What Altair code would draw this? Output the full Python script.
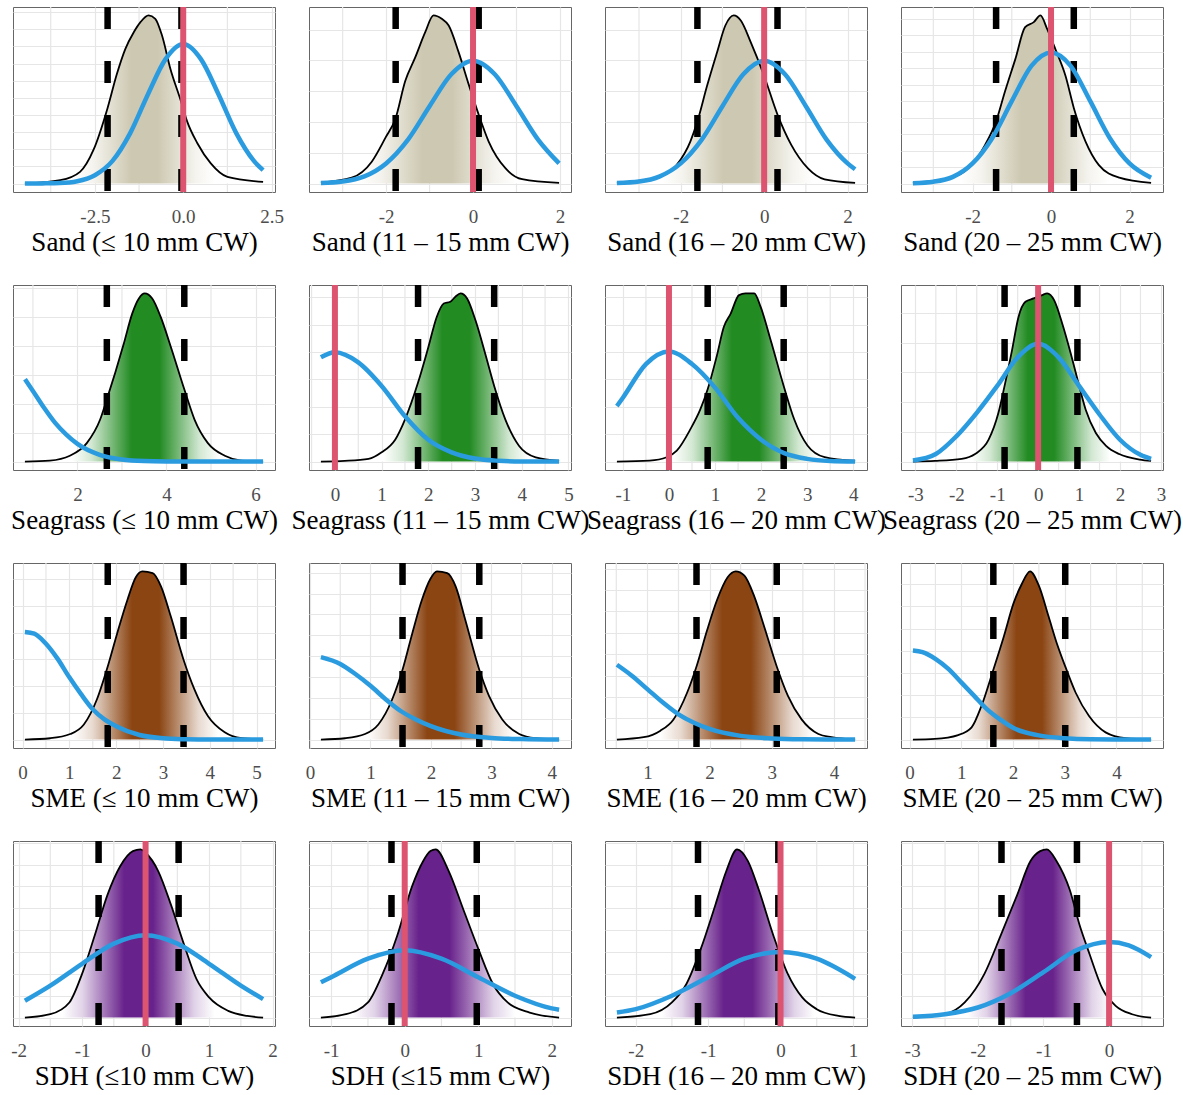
import math
import altair as alt
import pandas as pd

TITLES = [
    "Sand (\u2264 10 mm CW)", "Sand (11 \u2013 15 mm CW)", "Sand (16 \u2013 20 mm CW)", "Sand (20 \u2013 25 mm CW)",
    "Seagrass (\u2264 10 mm CW)", "Seagrass (11 \u2013 15 mm CW)", "Seagrass (16 \u2013 20 mm CW)", "Seagrass (20 \u2013 25 mm CW)",
    "SME (\u2264 10 mm CW)", "SME (11 \u2013 15 mm CW)", "SME (16 \u2013 20 mm CW)", "SME (20 \u2013 25 mm CW)",
    "SDH (\u226410 mm CW)", "SDH (\u226415 mm CW)", "SDH (16 \u2013 20 mm CW)", "SDH (20 \u2013 25 mm CW)",
]

# posterior densities (black outline), peak scaled to 1
POST_X = [
    [-4.48, -3.48, -2.92, -2.54, -2.14, -1.88, -1.64, -1.40, -1.21, -0.98, -0.79, -0.60, -0.36, -0.08, 0.11, 0.40, 0.78, 1.25, 2.26],
    [-3.5, -2.79, -2.33, -2.02, -1.78, -1.56, -1.33, -1.10, -0.91, -0.72, -0.56, -0.33, -0.10, 0.13, 0.36, 0.75, 1.13, 1.98],
    [-3.53, -2.58, -2.10, -1.77, -1.60, -1.37, -1.13, -0.93, -0.73, -0.56, -0.32, 0.0, 0.32, 0.65, 1.05, 1.45, 2.18],
    [-3.52, -2.54, -2.11, -1.68, -1.40, -1.17, -0.91, -0.66, -0.44, -0.27, -0.10, 0.11, 0.37, 0.58, 0.88, 1.22, 1.74, 2.55],
    [0.82, 1.38, 1.83, 2.21, 2.51, 2.66, 2.85, 3.04, 3.23, 3.38, 3.51, 3.68, 3.87, 4.10, 4.40, 4.63, 4.93, 5.31, 5.68, 6.17],
    [-0.30, 0.21, 0.72, 1.00, 1.29, 1.50, 1.78, 2.00, 2.18, 2.33, 2.47, 2.58, 2.69, 2.83, 3.01, 3.22, 3.41, 3.65, 3.94, 4.30, 4.80],
    [-1.13, -0.42, -0.05, 0.17, 0.46, 0.68, 0.84, 1.04, 1.19, 1.34, 1.52, 1.66, 1.85, 1.99, 2.21, 2.49, 2.72, 3.01, 3.38, 4.04],
    [-3.06, -2.52, -1.87, -1.54, -1.21, -0.97, -0.82, -0.64, -0.48, -0.31, -0.11, 0.10, 0.22, 0.39, 0.59, 0.80, 0.96, 1.16, 1.41, 1.66, 1.98, 2.48, 2.76],
    [0.05, 0.59, 1.02, 1.31, 1.59, 1.82, 2.02, 2.24, 2.42, 2.56, 2.78, 2.96, 3.17, 3.44, 3.67, 3.96, 4.32, 4.68, 5.14],
    [0.18, 0.58, 0.91, 1.13, 1.36, 1.53, 1.69, 1.85, 1.99, 2.10, 2.27, 2.41, 2.57, 2.80, 2.96, 3.18, 3.46, 3.73, 4.12],
    [0.51, 0.94, 1.21, 1.42, 1.64, 1.79, 1.96, 2.12, 2.29, 2.42, 2.56, 2.72, 2.88, 3.08, 3.26, 3.48, 3.75, 3.96, 4.34],
    [0.065, 0.49, 0.94, 1.20, 1.39, 1.62, 1.82, 2.01, 2.17, 2.33, 2.50, 2.69, 2.85, 3.01, 3.21, 3.47, 3.79, 4.18, 4.67],
    [-1.9, -1.5, -1.2, -1.0, -0.8, -0.6, -0.4, -0.2, -0.08, 0.0, 0.2, 0.4, 0.6, 0.8, 1.0, 1.3, 1.6, 1.85],
    [-1.14, -0.8, -0.5, -0.3, -0.1, 0.1, 0.25, 0.35, 0.42, 0.6, 0.8, 1.0, 1.2, 1.4, 1.7, 2.1],
    [-2.26, -1.8, -1.5, -1.3, -1.1, -0.9, -0.75, -0.6, -0.45, -0.3, -0.1, 0.1, 0.3, 0.5, 0.8, 1.03],
    [-2.99, -2.5, -2.2, -1.9, -1.65, -1.4, -1.2, -1.05, -0.95, -0.8, -0.6, -0.45, -0.3, -0.1, 0.1, 0.35, 0.64],
]
POST_Y = [
    [0.0, 0.02, 0.07, 0.2, 0.45, 0.65, 0.80, 0.90, 0.96, 1.0, 0.98, 0.88, 0.68, 0.50, 0.37, 0.24, 0.12, 0.04, 0.01],
    [0.006, 0.035, 0.13, 0.27, 0.39, 0.61, 0.75, 0.90, 1.0, 0.98, 0.94, 0.78, 0.59, 0.41, 0.25, 0.09, 0.026, 0.004],
    [0.004, 0.035, 0.11, 0.25, 0.37, 0.58, 0.78, 0.94, 1.0, 0.97, 0.84, 0.64, 0.41, 0.23, 0.09, 0.025, 0.004],
    [0.004, 0.035, 0.09, 0.23, 0.37, 0.55, 0.74, 0.93, 0.96, 1.0, 0.92, 0.80, 0.64, 0.45, 0.25, 0.11, 0.035, 0.004],
    [0.0, 0.006, 0.035, 0.11, 0.25, 0.37, 0.53, 0.70, 0.88, 0.97, 1.0, 0.97, 0.86, 0.68, 0.43, 0.25, 0.11, 0.035, 0.006, 0.0],
    [0.0, 0.004, 0.016, 0.055, 0.13, 0.25, 0.47, 0.68, 0.86, 0.94, 0.95, 0.98, 1.0, 0.97, 0.84, 0.64, 0.45, 0.25, 0.094, 0.025, 0.004],
    [0.0, 0.006, 0.026, 0.065, 0.19, 0.31, 0.43, 0.63, 0.80, 0.88, 0.99, 1.0, 1.0, 0.92, 0.72, 0.45, 0.25, 0.094, 0.026, 0.004],
    [0.0, 0.004, 0.016, 0.045, 0.13, 0.29, 0.45, 0.66, 0.86, 0.95, 0.97, 0.99, 1.0, 0.96, 0.82, 0.64, 0.49, 0.31, 0.17, 0.094, 0.045, 0.012, 0.004],
    [0.0, 0.008, 0.033, 0.09, 0.24, 0.435, 0.63, 0.83, 0.965, 1.0, 0.99, 0.91, 0.73, 0.475, 0.30, 0.14, 0.043, 0.008, 0.0],
    [0.0, 0.008, 0.033, 0.09, 0.24, 0.415, 0.63, 0.83, 0.955, 1.0, 0.99, 0.91, 0.71, 0.415, 0.26, 0.12, 0.033, 0.008, 0.0],
    [0.0, 0.014, 0.053, 0.12, 0.28, 0.435, 0.65, 0.83, 0.965, 1.0, 0.975, 0.85, 0.67, 0.435, 0.26, 0.12, 0.033, 0.014, 0.0],
    [0.0, 0.004, 0.027, 0.073, 0.20, 0.415, 0.61, 0.81, 0.925, 1.0, 0.915, 0.73, 0.57, 0.435, 0.28, 0.14, 0.043, 0.008, 0.0],
    [0.0, 0.02, 0.09, 0.26, 0.49, 0.73, 0.90, 0.99, 1.0, 0.98, 0.87, 0.67, 0.44, 0.23, 0.12, 0.04, 0.01, 0.0],
    [0.0, 0.02, 0.09, 0.26, 0.49, 0.78, 0.93, 0.99, 1.0, 0.87, 0.64, 0.41, 0.20, 0.09, 0.03, 0.0],
    [0.0, 0.02, 0.09, 0.20, 0.41, 0.67, 0.87, 1.0, 0.93, 0.76, 0.49, 0.26, 0.12, 0.05, 0.01, 0.0],
    [0.0, 0.02, 0.09, 0.26, 0.49, 0.73, 0.93, 0.99, 1.0, 0.93, 0.76, 0.55, 0.38, 0.17, 0.07, 0.02, 0.0],
]

# prior densities (blue), same vertical units as the posterior in each panel
PRIOR_X = [
    [-4.48, -4.0, -3.5, -3.0, -2.5, -2.0, -1.5, -1.0, -0.5, 0.0, 0.5, 1.0, 1.5, 2.0, 2.26],
    [-3.5, -3.0, -2.5, -2.0, -1.5, -1.0, -0.5, 0.0, 0.5, 1.0, 1.5, 1.98],
    [-3.53, -3.0, -2.5, -2.0, -1.5, -1.0, -0.5, 0.0, 0.5, 1.0, 1.5, 2.0, 2.18],
    [-3.52, -3.0, -2.5, -2.0, -1.5, -1.0, -0.5, 0.0, 0.5, 1.0, 1.5, 2.0, 2.55],
    [0.82, 1.0, 1.25, 1.5, 1.75, 2.0, 2.5, 3.0, 3.5, 4.0, 5.0, 6.17],
    [-0.30, 0.0, 0.5, 1.0, 1.5, 2.0, 2.5, 3.0, 3.5, 4.0, 4.8],
    [-1.13, -1.0, -0.5, 0.0, 0.5, 1.0, 1.5, 2.0, 2.5, 3.0, 3.5, 4.04],
    [-3.06, -2.5, -2.0, -1.5, -1.0, -0.5, 0.0, 0.5, 1.0, 1.5, 2.0, 2.5, 2.76],
    [0.05, 0.25, 0.5, 0.75, 1.0, 1.25, 1.5, 1.75, 2.0, 2.5, 3.0, 3.5, 4.0, 5.14],
    [0.18, 0.5, 0.75, 1.0, 1.25, 1.5, 1.75, 2.0, 2.5, 3.0, 3.5, 4.12],
    [0.51, 0.75, 1.0, 1.25, 1.5, 1.75, 2.0, 2.5, 3.0, 3.5, 4.34],
    [0.065, 0.25, 0.5, 0.75, 1.0, 1.25, 1.5, 1.75, 2.0, 2.5, 3.0, 3.5, 4.67],
    [-1.9, -1.5, -1.0, -0.5, 0.0, 0.5, 1.0, 1.5, 1.85],
    [-1.14, -1.0, -0.5, 0.0, 0.5, 1.0, 1.5, 2.0, 2.1],
    [-2.26, -2.0, -1.5, -1.0, -0.5, 0.0, 0.5, 1.03],
    [-2.99, -2.5, -2.0, -1.5, -1.0, -0.5, 0.0, 0.3, 0.64],
]
PRIOR_Y = [
    [0.0, 0.001, 0.003, 0.014, 0.05, 0.135, 0.30, 0.53, 0.74, 0.83, 0.74, 0.53, 0.30, 0.135, 0.08],
    [0.003, 0.012, 0.043, 0.12, 0.26, 0.46, 0.65, 0.73, 0.65, 0.46, 0.26, 0.12],
    [0.003, 0.012, 0.043, 0.12, 0.26, 0.46, 0.65, 0.73, 0.65, 0.46, 0.26, 0.12, 0.085],
    [0.002, 0.011, 0.04, 0.12, 0.27, 0.49, 0.70, 0.78, 0.70, 0.49, 0.27, 0.12, 0.035],
    [0.49, 0.42, 0.32, 0.23, 0.16, 0.105, 0.04, 0.012, 0.003, 0.001, 0.0, 0.0],
    [0.62, 0.65, 0.59, 0.45, 0.27, 0.13, 0.055, 0.018, 0.005, 0.001, 0.0],
    [0.33, 0.38, 0.58, 0.655, 0.58, 0.44, 0.26, 0.13, 0.05, 0.016, 0.004, 0.001],
    [0.006, 0.045, 0.15, 0.29, 0.45, 0.62, 0.70, 0.62, 0.45, 0.28, 0.13, 0.04, 0.016],
    [0.64, 0.63, 0.57, 0.48, 0.37, 0.27, 0.18, 0.12, 0.08, 0.027, 0.008, 0.002, 0.0, 0.0],
    [0.49, 0.45, 0.39, 0.32, 0.24, 0.17, 0.12, 0.08, 0.03, 0.01, 0.003, 0.0],
    [0.445, 0.38, 0.30, 0.22, 0.15, 0.10, 0.063, 0.022, 0.007, 0.002, 0.0],
    [0.53, 0.52, 0.48, 0.42, 0.34, 0.26, 0.18, 0.12, 0.07, 0.025, 0.008, 0.002, 0.0],
    [0.10, 0.19, 0.32, 0.44, 0.49, 0.44, 0.32, 0.19, 0.11],
    [0.21, 0.24, 0.35, 0.40, 0.35, 0.24, 0.13, 0.055, 0.047],
    [0.03, 0.05, 0.13, 0.24, 0.35, 0.39, 0.35, 0.23],
    [0.005, 0.02, 0.06, 0.145, 0.27, 0.40, 0.45, 0.43, 0.36],
]

# credible interval limits (dashed lines)
CI_LO = [-2.14, -1.78, -1.60, -1.40, 2.66, 1.78, 0.84, -0.82, 1.82, 1.53, 1.79, 1.62, -0.74, -0.18, -1.14, -1.64]
CI_HI = [-0.05, 0.13, 0.32, 0.58, 4.40, 3.41, 2.49, 0.96, 3.44, 2.80, 3.08, 3.01, 0.52, 0.98, -0.03, -0.49]
# zero reference line shown
ZERO_LINE = [True, True, True, True, False, True, True, True,
             False, False, False, False, True, True, True, True]

ROW_COLORS = ["#CDC8B1", "#228B22", "#8B4513", "#68228B"]
X_STEP = [2.5, 2, 2, 2, 2, 1, 1, 1, 1, 1, 1, 1, 1, 1, 1, 1]
X_FMT = [".1f"] + ["d"] * 15
Y_STEP = [0.102, 0.183, 0.183, 0.098, 0.172, 0.163, 0.163, 0.177,
          0.159, 0.124, 0.127, 0.132, 0.13, 0.13, 0.13, 0.13]

FONT = "Liberation Serif"
GRID = "#e6e6e6"


def mix(hex_color, t):
    r, g, b = (int(hex_color[k:k + 2], 16) for k in (1, 3, 5))
    f = lambda c: int(round(255 + (c - 255) * t))
    return "#%02x%02x%02x" % (f(r), f(g), f(b))


def fill_gradient(i, color):
    x0, x1 = POST_X[i][0], POST_X[i][-1]
    lo, hi = CI_LO[i], CI_HI[i]
    w = hi - lo
    c = (lo + hi) / 2
    pts = [(x0, 0.0), (lo - 0.45 * w, 0.0), (lo - 0.2 * w, 0.2), (lo, 0.5),
           (c - 0.18 * w, 1.0), (c + 0.18 * w, 1.0), (hi, 0.5),
           (hi + 0.2 * w, 0.2), (hi + 0.45 * w, 0.0), (x1, 0.0)]
    stops, last = [], 0.0
    for x, t in pts:
        off = min(max((x - x0) / (x1 - x0), 0.0), 1.0)
        off = max(off, last)
        last = off
        stops.append(alt.GradientStop(color=mix(color, t), offset=off))
    return alt.Gradient(gradient="linear", stops=stops, x1=0, x2=1, y1=0, y2=0)


def steps(lo, hi, step):
    k = math.ceil(lo / step - 1e-9)
    vals = []
    while k * step <= hi + 1e-9:
        vals.append(round(k * step, 6))
        k += 1
    return vals


def panel(i):
    color = ROW_COLORS[i // 4]
    xs = POST_X[i] + PRIOR_X[i]
    xmin, xmax = min(xs), max(xs)
    pad = 0.05 * (xmax - xmin)
    dom = [xmin - pad, xmax + pad]
    ymax = max(POST_Y[i] + PRIOR_Y[i])
    ydom = [-0.05 * ymax, 1.05 * ymax]

    st = X_STEP[i]
    majors = steps(dom[0], dom[1], st)
    minors = [v for v in steps(dom[0], dom[1], st / 2)
              if abs(v / st - round(v / st)) > 0.001]
    xaxis = alt.Axis(
        title=TITLES[i], values=majors, format=X_FMT[i],
        labelExpr="replace(datum.label, '\u2212', '-')",
        grid=True, gridColor=GRID, gridWidth=1.2, ticks=False,
        domain=False, labelFont=FONT, labelFontSize=19, labelColor="#4d4d4d",
        labelPadding=15, labelFlush=False, labelOverlap=False,
        titleFont=FONT, titleFontSize=27, titleFontWeight="normal",
        titleColor="#000000", titlePadding=3, titleLimit=600)
    yaxis = alt.Axis(values=steps(0, ydom[1], Y_STEP[i]), labels=False, ticks=False,
                     domain=False, title=None, grid=True, gridColor=GRID,
                     gridWidth=1.2, minExtent=0, maxExtent=0)
    xs_ = alt.Scale(domain=dom, nice=False, zero=False)
    ys_ = alt.Scale(domain=ydom, nice=False, zero=False)
    X = alt.X("x:Q", scale=xs_, axis=xaxis)
    Y = alt.Y("y:Q", scale=ys_, axis=yaxis)

    post = pd.DataFrame({"x": POST_X[i], "y": POST_Y[i]})
    prior = pd.DataFrame({"x": PRIOR_X[i], "y": PRIOR_Y[i]})
    ci = pd.DataFrame({"x": [CI_LO[i], CI_HI[i]]})
    minor_grid = pd.DataFrame({"x": minors})

    layers = [
        alt.Chart(minor_grid).mark_rule(color=GRID, strokeWidth=1.2).encode(x=X),
        alt.Chart(post).mark_area(color=fill_gradient(i, color), interpolate="monotone")
        .encode(x=X, y=Y, y2=alt.datum(0)),
        alt.Chart(ci).mark_rule(color="black", strokeWidth=6.5, strokeDash=[22, 32])
        .encode(x=X),
        alt.Chart(post).mark_line(color="black", strokeWidth=1.8, interpolate="monotone")
        .encode(x=X, y=Y),
        alt.Chart(prior).mark_line(color="#2b9be0", strokeWidth=4.5, interpolate="monotone")
        .encode(x=X, y=Y),
    ]
    if ZERO_LINE[i]:
        layers.append(alt.Chart(pd.DataFrame({"x": [0.0]}))
                      .mark_rule(color="#dd5470", strokeWidth=6).encode(x=X))
    return alt.layer(*layers).properties(width=262, height=185)


chart = alt.concat(
    *[panel(i) for i in range(16)], columns=4,
    spacing={"row": 93, "column": 34}, bounds="flush",
).properties(
    padding={"left": 10, "top": 3, "right": 0, "bottom": 0},
    background="white",
).configure_view(stroke="#666666", strokeWidth=1)

chart.save("out.html", embed_options={"renderer": "svg", "actions": False})
